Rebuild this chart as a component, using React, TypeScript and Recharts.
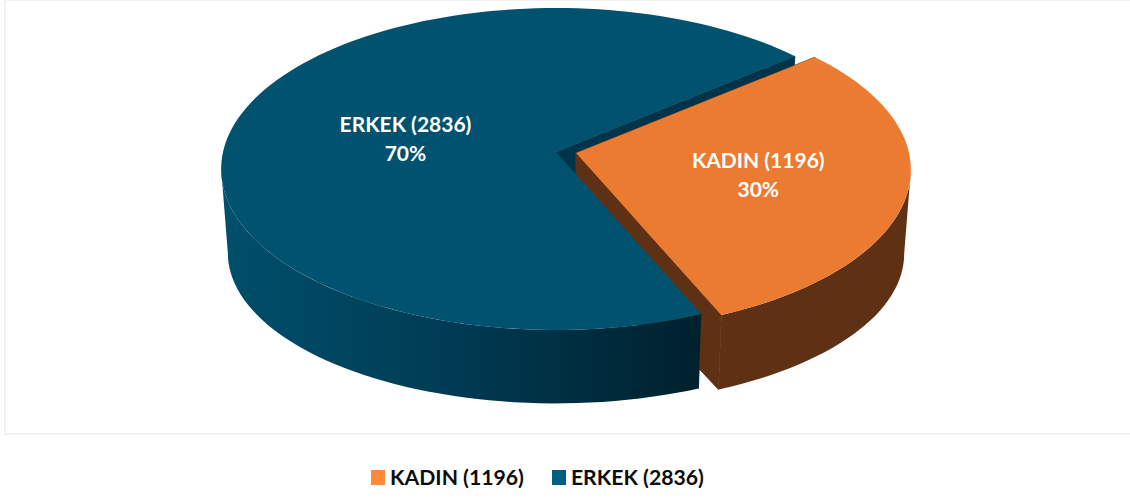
import React from 'react';
import { PieChart, Pie, Legend } from 'recharts';

const names = ['KADIN', 'ERKEK'];
const values = [1196, 2836];
const topColors = ['#EA7B31', '#00526F'];
const wallColors = ['#5F3114', 'url(#erkekWall)'];
const cutColors = ['#5F3114', '#00344A'];
const legendColors = ['#FF8B3A', '#005F80'];
const explodeX = [20, 0];
const explodeY = [1, 0];
const labelRadius = [0.555, 0.47];
const labelLift = [-6, -3];

const data = names.map((name, i) => ({ name, value: values[i] }));

const FONT = 'Lato, "Open Sans", sans-serif';

// fake 3d: the disc is squashed and the far side shrinks a bit
const PERSPECTIVE = 0.1056;
const SQUASH = 0.478;
const DEPTH = 85;
const BOTTOM_X = 0.98;
const BOTTOM_Y = 0.935;
// the part of the rim that faces the viewer
const FRONT_FROM = -174;
const FRONT_TO = -6;

const project = (cx: number, cy: number, R: number, deg: number, r: number, bottom = false) => {
  const u = r * Math.cos((deg * Math.PI) / 180);
  const v = r * Math.sin((deg * Math.PI) / 180);
  const w = 1 + PERSPECTIVE * v;
  if (bottom) {
    return [cx + (R * BOTTOM_X * u) / w, cy + DEPTH - (R * SQUASH * BOTTOM_Y * v) / w];
  }
  return [cx + (R * u) / w, cy - (R * SQUASH * v) / w];
};

const toPath = (pts: number[][]) =>
  pts.map((p, i) => `${i ? 'L' : 'M'}${p[0].toFixed(2)},${p[1].toFixed(2)}`).join(' ') + ' Z';

const arc = (cx: number, cy: number, R: number, a: number, b: number, bottom = false) => {
  const n = Math.max(2, Math.ceil(Math.abs(b - a) / 2));
  const pts = [];
  for (let i = 0; i <= n; i++) pts.push(project(cx, cy, R, a + ((b - a) * i) / n, 1, bottom));
  return pts;
};

type Part = 'cut' | 'rim' | 'top';

const makeShape = (onlyName: string, parts: Part[]) => (props: any) => {
  if (props.name !== onlyName) return <g />;
  const idx = names.indexOf(props.name);
  const cx = props.cx + explodeX[idx];
  const cy = props.cy + explodeY[idx];
  const R = props.outerRadius;
  const { startAngle, endAngle } = props;

  const cutWall = (deg: number) =>
    toPath([
      project(cx, cy, R, deg, 0),
      project(cx, cy, R, deg, 1),
      project(cx, cy, R, deg, 1, true),
      project(cx, cy, R, deg, 0, true),
    ]);

  const a = Math.min(startAngle, FRONT_TO);
  const b = Math.max(endAngle, FRONT_FROM);

  return (
    <g>
      {parts.includes('cut') && (
        <>
          <path d={cutWall(startAngle)} fill={cutColors[idx]} stroke={cutColors[idx]} strokeWidth={0.8} />
          <path d={cutWall(endAngle)} fill={cutColors[idx]} stroke={cutColors[idx]} strokeWidth={0.8} />
        </>
      )}
      {parts.includes('rim') && (
        <path
          d={toPath([...arc(cx, cy, R, a, b), ...arc(cx, cy, R, b, a, true)])}
          fill={wallColors[idx]}
        />
      )}
      {parts.includes('top') && (
        <path
          d={toPath([project(cx, cy, R, startAngle, 0), ...arc(cx, cy, R, startAngle, endAngle)])}
          fill={topColors[idx]}
        />
      )}
    </g>
  );
};

// painted back to front, so each sector is split over several passes
const passes: [string, Part[]][] = [
  ['ERKEK', ['cut']],
  ['KADIN', ['cut', 'rim']],
  ['ERKEK', ['rim', 'top']],
  ['KADIN', ['top']],
];

const renderLabel = (props: any) => {
  const idx = names.indexOf(props.name);
  const [x, y] = project(
    props.cx + explodeX[idx],
    props.cy + explodeY[idx],
    props.outerRadius,
    props.midAngle,
    labelRadius[idx],
  );
  return (
    <text
      x={x}
      y={y + labelLift[idx]}
      textAnchor="middle"
      fill="#FFFFFF"
      fontFamily={FONT}
      fontWeight={700}
      fontSize={21}
    >
      <tspan x={x} dy={0}>{`${props.name} (${props.value})`}</tspan>
      <tspan x={x} dy={29}>{`${Math.round(props.percent * 100)}%`}</tspan>
    </text>
  );
};

const renderLegend = () => (
  <div style={{ display: 'flex', paddingLeft: 371, fontFamily: FONT, fontWeight: 700, fontSize: 21.2, color: '#0D0D0D' }}>
    {names.map((name, i) => (
      <div key={name} style={{ display: 'flex', alignItems: 'center', marginRight: 28 }}>
        <span style={{ width: 14, height: 15, background: legendColors[i], marginRight: 5 }} />
        <span style={{ lineHeight: '26px' }}>{`${name} (${values[i]})`}</span>
      </div>
    ))}
  </div>
);

export default function App() {
  return (
    <div style={{ position: 'absolute', left: 0, top: 0, width: 1130, height: 500, background: '#fff', overflow: 'hidden' }}>
      <div
        style={{
          position: 'absolute',
          left: 4,
          top: 0,
          width: 1130,
          height: 432,
          borderLeft: '2px solid #F2F2F2',
          borderTop: '1px solid #F2F2F2',
          borderBottom: '2px solid #F2F2F2',
        }}
      />
      <PieChart width={1130} height={500} margin={{ top: 0, right: 0, bottom: 0, left: 0 }}>
        <defs>
          <linearGradient id="erkekWall" gradientUnits="userSpaceOnUse" x1={225} y1={0} x2={700} y2={0}>
            <stop offset="0%" stopColor="#004F6B" />
            <stop offset="50%" stopColor="#003A52" />
            <stop offset="100%" stopColor="#00202D" />
          </linearGradient>
        </defs>
        {passes.map(([name, parts], i) => (
          <Pie
            key={i}
            data={data}
            dataKey="value"
            nameKey="name"
            cx={556}
            cy={152}
            innerRadius={0}
            outerRadius={333}
            startAngle={40}
            endAngle={-320}
            stroke="none"
            legendType="none"
            isAnimationActive={false}
            shape={makeShape(name, parts)}
            label={i === passes.length - 1 ? renderLabel : false}
            labelLine={false}
          />
        ))}
        <Legend content={renderLegend} wrapperStyle={{ left: 0, top: 464, width: 1130 }} />
      </PieChart>
    </div>
  );
}
